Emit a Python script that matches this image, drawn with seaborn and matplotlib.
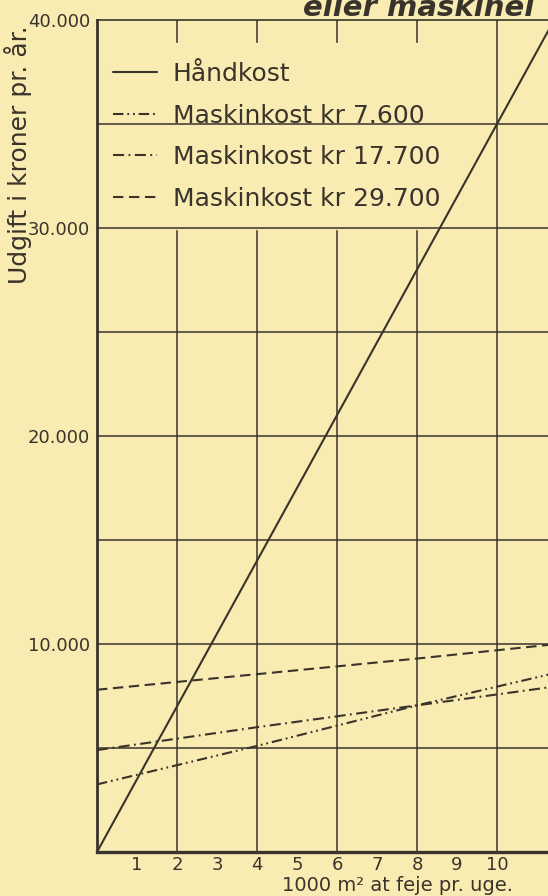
import pandas as pd
import seaborn as sns
import matplotlib.pyplot as plt

# 1000 m2 at feje pr. uge
areal = [0, 4, 8, 12]
haandkost = [0, 14000, 28000, 42000]
maskine_7600 = [3250, 5100, 7050, 8850]
maskine_17700 = [4900, 6000, 7050, 8100]
maskine_29700 = [7800, 8550, 9300, 10100]

serier = ["Håndkost", "Maskinkost kr 7.600", "Maskinkost kr 17.700", "Maskinkost kr 29.700"]
x_ticks = [1, 2, 3, 4, 5, 6, 7, 8, 9, 10]
y_ticks = [10000, 20000, 30000, 40000]
y_labels = ["10.000", "20.000", "30.000", "40.000"]

bg = "#f8ecb2"
ink = "#3a332b"

sns.set_theme(style="white")
plt.rcParams["font.family"] = ["DejaVu Sans"]
plt.rcParams["lines.scale_dashes"] = False

rows = []
for navn, vals in zip(serier, [haandkost, maskine_7600, maskine_17700, maskine_29700]):
    for a, v in zip(areal, vals):
        rows.append({"areal": a, "udgift": v, "serie": navn})
df = pd.DataFrame(rows)

dash_map = {
    "Håndkost": "",
    "Maskinkost kr 7.600": (7.5, 2.8, 1.3, 2.8, 1.3, 2.8),
    "Maskinkost kr 17.700": (8.0, 3.2, 1.3, 3.2),
    "Maskinkost kr 29.700": (7.5, 4.0),
}

fig = plt.figure(figsize=(5.48, 8.96), dpi=100, facecolor=bg)
ax = fig.add_axes([97 / 548, 44 / 896, 480 / 548, 832 / 896])
ax.set_facecolor(bg)

sns.lineplot(data=df, x="areal", y="udgift", style="serie", style_order=serier,
             dashes=dash_map, color=ink, linewidth=1.5, estimator=None, sort=False, ax=ax)
for ln in ax.get_lines():
    ln.set_zorder(3)  # keep the curves above the legend box

ax.set_xlim(0, 12)
ax.set_ylim(0, 40000)
ax.set_xticks(x_ticks)
ax.set_xticklabels([str(t) for t in x_ticks])
ax.set_yticks(y_ticks)
ax.set_yticklabels(y_labels)
ax.tick_params(axis="both", which="both", length=0, labelsize=13, colors=ink)
ax.tick_params(axis="y", pad=5)
ax.tick_params(axis="x", pad=3)
ax.grid(False)

# grid: verticals every 2, horizontals every 5000 (horizontals run over the legend)
for xv in range(2, 13, 2):
    ax.axvline(xv, color=ink, linewidth=1.1, zorder=1)
for yv in range(5000, 40000, 5000):
    ax.axhline(yv, color=ink, linewidth=1.1, zorder=6)

for side, lw in [("left", 2.0), ("bottom", 2.4), ("top", 1.2), ("right", 1.2)]:
    ax.spines[side].set_color(ink)
    ax.spines[side].set_linewidth(lw)
    ax.spines[side].set_visible(True)
    ax.spines[side].set_zorder(7)

handles, labels = ax.get_legend_handles_labels()
leg = ax.legend(handles, labels, loc="upper left", bbox_to_anchor=(-0.006, 0.972),
                borderaxespad=0, frameon=True, fontsize=18, handlelength=1.75,
                handletextpad=0.65, labelspacing=0.7, borderpad=0.75)
leg.set_zorder(2.2)
leg.get_frame().set_facecolor(bg)
leg.get_frame().set_edgecolor(bg)
leg.get_frame().set_alpha(1)
for t in leg.get_texts():
    t.set_color(ink)
for h in leg.get_lines():
    h.set_linewidth(1.5)

ax.set_xlabel("1000 m² at feje pr. uge.", fontsize=14, color=ink)
ax.xaxis.set_label_coords(0.627, -0.029)
ax.set_ylabel("Udgift i kroner pr. år.", fontsize=18, color=ink)
ax.yaxis.set_label_coords(-0.135, 0.838)

fig.text(303 / 548, 1 - 16 / 896, "eller maskinel", fontsize=21, weight="bold",
         style="italic", color=ink, ha="left", va="baseline")

fig.savefig("out.png", dpi=100, facecolor=bg)
